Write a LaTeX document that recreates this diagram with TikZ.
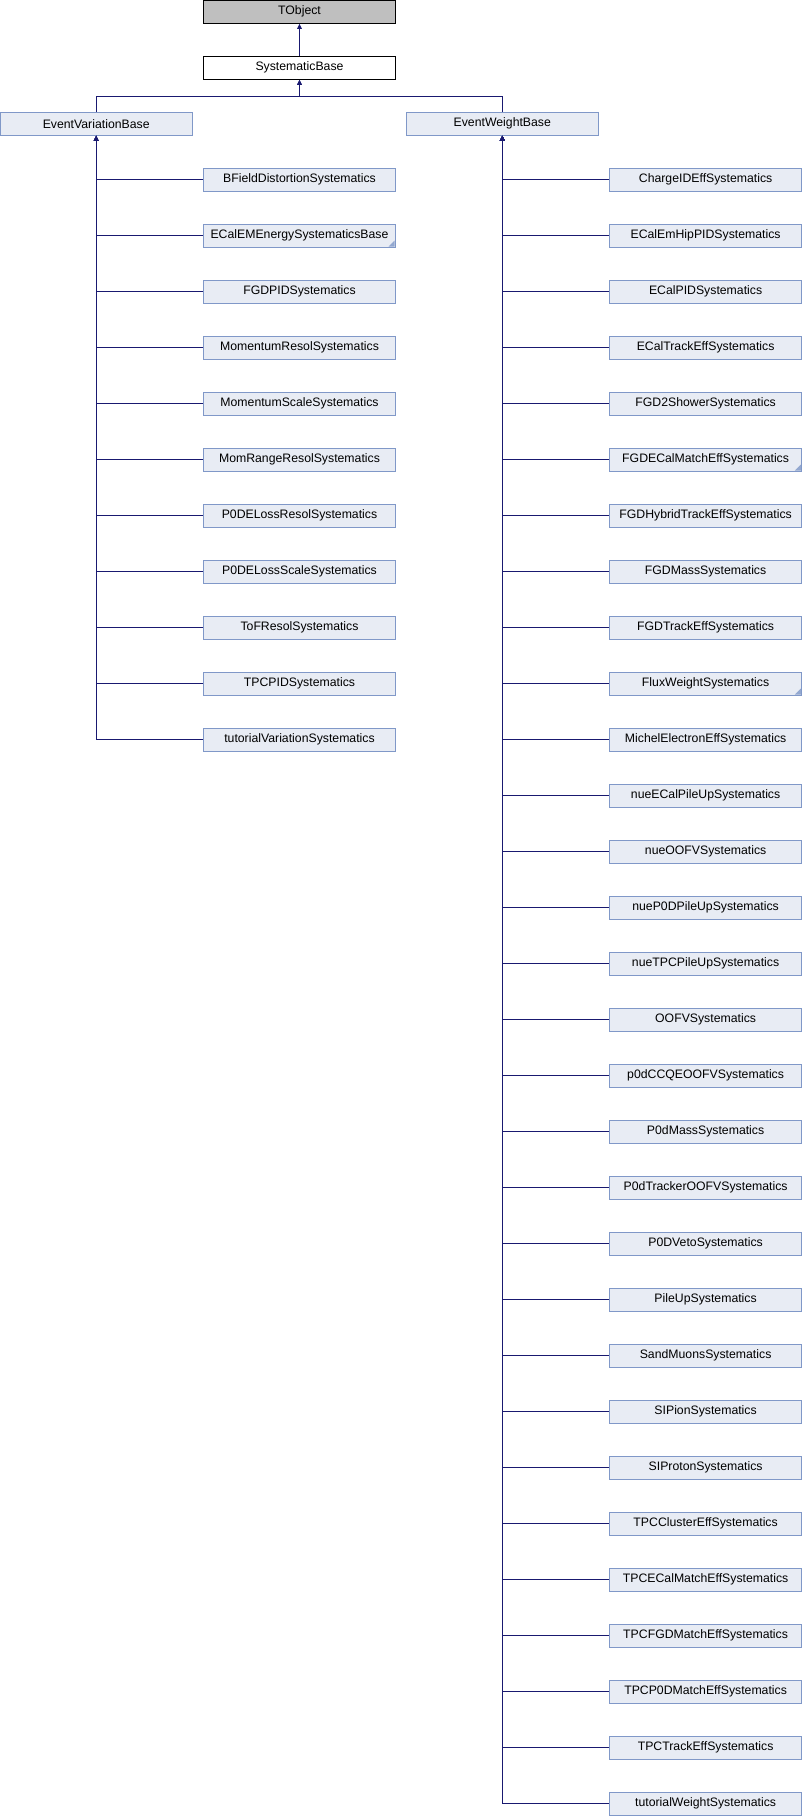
\documentclass[tikz,border=0pt]{standalone}
\usepackage{fontspec}
\setmainfont{Liberation Sans}
\usetikzlibrary{arrows.meta}
\definecolor{boxfill}{RGB}{232,236,244}
\definecolor{boxline}{RGB}{128,152,200}
\definecolor{rootfill}{RGB}{191,191,191}
\definecolor{edgeblue}{RGB}{25,25,112}
\tikzset{
  cls/.style={draw=boxline, fill=boxfill, line width=0.75pt, minimum width=144pt, minimum height=17.25pt, inner sep=0pt, font=\fontsize{9.2pt}{11pt}\selectfont},
  more/.style={path picture={\fill[boxline!85] ([xshift=-0.6pt,yshift=0.6pt]path picture bounding box.south east) -- ++(-4.5pt,0pt) -- ++(4.5pt,4.5pt) -- cycle;}},
  inh/.style={draw=edgeblue, line width=0.8pt, -{Triangle[length=3.8pt,width=3.4pt]}}
}
\begin{document}
\begin{tikzpicture}[x=0.75pt,y=-0.75pt]
        \useasboundingbox (0,0) rectangle (802,1816);
        \node[cls, draw=black, fill=rootfill] (tobj) at (299.5,11.7) {TObject};
        \node[cls, draw=black, fill=white] (sysb) at (299.5,67.7) {SystematicBase};
        \node[cls] (evb) at (96.2,123.8) {EventVariationBase};
        \node[cls] (ewb) at (502.3,123.8) {EventWeightBase};
        \coordinate (join) at (299.5,96.3);
        % variation systematics
        \node[cls] (v0) at (299.5,179.8) {BFieldDistortionSystematics};
        \node[cls, more] (v1) at (299.5,235.8) {ECalEMEnergySystematicsBase};
        \node[cls] (v2) at (299.5,291.8) {FGDPIDSystematics};
        \node[cls] (v3) at (299.5,347.8) {MomentumResolSystematics};
        \node[cls] (v4) at (299.5,403.8) {MomentumScaleSystematics};
        \node[cls] (v5) at (299.5,459.8) {MomRangeResolSystematics};
        \node[cls] (v6) at (299.5,515.8) {P0DELossResolSystematics};
        \node[cls] (v7) at (299.5,571.8) {P0DELossScaleSystematics};
        \node[cls] (v8) at (299.5,627.8) {ToFResolSystematics};
        \node[cls] (v9) at (299.5,683.8) {TPCPIDSystematics};
        \node[cls] (v10) at (299.5,739.8) {tutorialVariationSystematics};
        % weight systematics
        \node[cls] (w0) at (705.6,179.8) {ChargeIDEffSystematics};
        \node[cls] (w1) at (705.6,235.8) {ECalEmHipPIDSystematics};
        \node[cls] (w2) at (705.6,291.8) {ECalPIDSystematics};
        \node[cls] (w3) at (705.6,347.8) {ECalTrackEffSystematics};
        \node[cls] (w4) at (705.6,403.8) {FGD2ShowerSystematics};
        \node[cls, more] (w5) at (705.6,459.8) {FGDECalMatchEffSystematics};
        \node[cls] (w6) at (705.6,515.8) {FGDHybridTrackEffSystematics};
        \node[cls] (w7) at (705.6,571.8) {FGDMassSystematics};
        \node[cls] (w8) at (705.6,627.8) {FGDTrackEffSystematics};
        \node[cls, more] (w9) at (705.6,683.8) {FluxWeightSystematics};
        \node[cls] (w10) at (705.6,739.8) {MichelElectronEffSystematics};
        \node[cls] (w11) at (705.6,795.8) {nueECalPileUpSystematics};
        \node[cls] (w12) at (705.6,851.8) {nueOOFVSystematics};
        \node[cls] (w13) at (705.6,907.8) {nueP0DPileUpSystematics};
        \node[cls] (w14) at (705.6,963.8) {nueTPCPileUpSystematics};
        \node[cls] (w15) at (705.6,1019.8) {OOFVSystematics};
        \node[cls] (w16) at (705.6,1075.8) {p0dCCQEOOFVSystematics};
        \node[cls] (w17) at (705.6,1131.8) {P0dMassSystematics};
        \node[cls] (w18) at (705.6,1187.8) {P0dTrackerOOFVSystematics};
        \node[cls] (w19) at (705.6,1243.8) {P0DVetoSystematics};
        \node[cls] (w20) at (705.6,1299.8) {PileUpSystematics};
        \node[cls] (w21) at (705.6,1355.8) {SandMuonsSystematics};
        \node[cls] (w22) at (705.6,1411.8) {SIPionSystematics};
        \node[cls] (w23) at (705.6,1467.8) {SIProtonSystematics};
        \node[cls] (w24) at (705.6,1523.8) {TPCClusterEffSystematics};
        \node[cls] (w25) at (705.6,1579.8) {TPCECalMatchEffSystematics};
        \node[cls] (w26) at (705.6,1635.8) {TPCFGDMatchEffSystematics};
        \node[cls] (w27) at (705.6,1691.8) {TPCP0DMatchEffSystematics};
        \node[cls] (w28) at (705.6,1747.8) {TPCTrackEffSystematics};
        \node[cls] (w29) at (705.6,1803.8) {tutorialWeightSystematics};
        % inheritance
        \draw[inh] (sysb) -- (tobj);
        \draw[inh] (evb.north) |- (join) -- (sysb.south);
        \draw[inh] (ewb.north) |- (join) -- (sysb.south);
        \foreach \i in {0,...,10} \draw[inh] (v\i.west) -| (evb.south);
        \foreach \i in {0,...,29} \draw[inh] (w\i.west) -| (ewb.south);
      \end{tikzpicture}
\end{document}
